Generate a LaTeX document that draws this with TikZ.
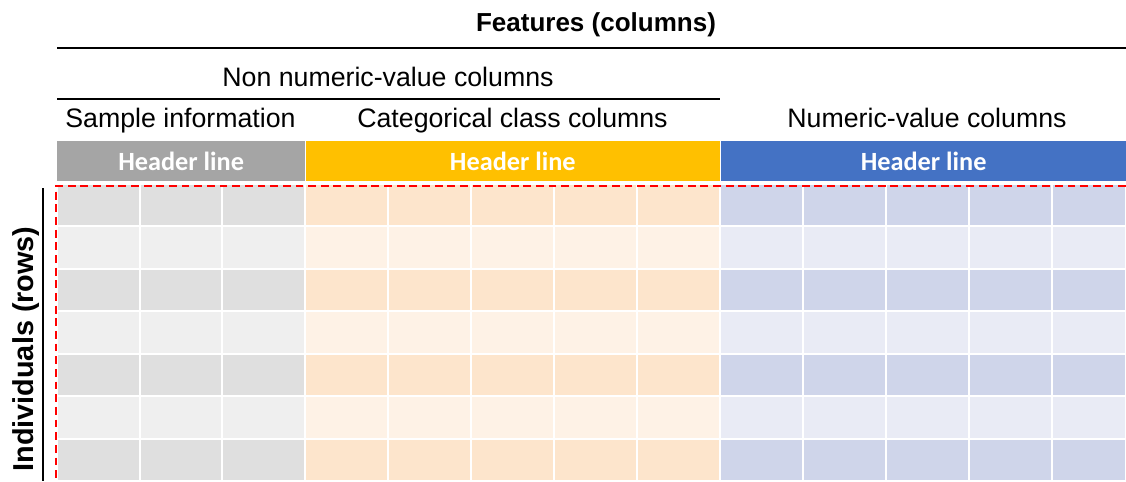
\documentclass[tikz,border=0pt]{standalone}
\usepackage{xcolor}
\usepackage{fontspec}
\setmainfont{Liberation Sans}
\newfontfamily\hdrfont{Carlito}
\usetikzlibrary{positioning}

\definecolor{greyH}{HTML}{A5A5A5}
\definecolor{goldH}{HTML}{FFC000}
\definecolor{blueH}{HTML}{4472C4}
\definecolor{greyA}{HTML}{DFDFDF}
\definecolor{greyB}{HTML}{EFEFEF}
\definecolor{goldA}{HTML}{FDE5CC}
\definecolor{goldB}{HTML}{FEF2E6}
\definecolor{blueA}{HTML}{CFD5EA}
\definecolor{blueB}{HTML}{E9EBF5}

\tikzset{
  txt/.style = {inner sep=0pt, anchor=base, font=\fontsize{19}{22}\selectfont},
  bold/.style = {inner sep=0pt, anchor=base, font=\fontsize{#1}{22}\selectfont\bfseries},
  header/.style = {fill=#1, text=white, inner sep=0pt, anchor=north west,
    minimum height=1cm, text height=0.46cm, text depth=0cm,
    font=\hdrfont\fontsize{18.7}{20}\selectfont\bfseries},
  cell/.style = {fill=#1, draw=white, line width=1.4pt},
  rule/.style = {line width=1pt},
  reddash/.style = {draw=red, line width=2.1pt, dash pattern=on 5.6pt off 3.4pt}
}

\begin{document}
\begin{tikzpicture}[x=0.025cm, y=-0.025cm]
  \useasboundingbox (0,0) rectangle (1126,481);

  % body cells, rows alternate dark / light
  \foreach \r in {0,...,6} {
    \edef\tone{\ifodd\r B\else A\fi}
    \pgfmathsetmacro\ya{184+42.43*\r}
    \pgfmathsetmacro\yb{184+42.43*(\r+1)}
    \foreach \c in {0,1,2}
      \fill[cell=grey\tone] ({57+82.67*\c},\ya) rectangle ({57+82.67*(\c+1)},\yb);
    \foreach \c in {0,...,4}
      \fill[cell=gold\tone] ({305+83*\c},\ya) rectangle ({305+83*(\c+1)},\yb);
    \foreach \c in {0,...,4} {
      \pgfmathsetmacro\xb{min(720+83*(\c+1),1126)}
      \fill[cell=blue\tone] ({720+83*\c},\ya) rectangle (\xb,\yb);
    }
  }

  % header bars
  \node[header=greyH, minimum width=6.19cm] (hdrS) at (57,141) {Header line};
  \node[header=goldH, minimum width=10.35cm] (hdrC) at (305.5,141) {Header line};
  \node[header=blueH, minimum width=10.14cm] (hdrN) at (720.5,141) {Header line};

  % group titles
  \node[bold=18.5] (feat) at (596,31) {Features (columns)};
  \node[txt] (nonnum) at (388,86) {Non numeric-value columns};
  \node[txt] (sample) at (180.5,127) {Sample information};
  \node[txt] (categ) at (512.5,127) {Categorical class columns};
  \node[txt] (numval) at (927,127) {Numeric-value columns};
  \node[bold=20.5, rotate=90] (indiv) at (33,349) {Individuals (rows)};

  \coordinate (featL) at (57,48);
  \coordinate (featR) at (1126,48);
  \coordinate (nonL) at (57,99);
  \coordinate (nonR) at (720,99);
  \coordinate (indT) at (43,188);
  \coordinate (indB) at (43,481);
  \draw[rule] (featL) -- (featR);
  \draw[rule] (nonL) -- (nonR);
  \draw[rule] (indT) -- (indB);

  % selection frame
  \coordinate (selR) at (1126,186);
  \coordinate (selC) at (56,186);
  \coordinate (selB) at (56,481);
  \draw[reddash] (selR) -- (selC) -- (selB);
\end{tikzpicture}
\end{document}
